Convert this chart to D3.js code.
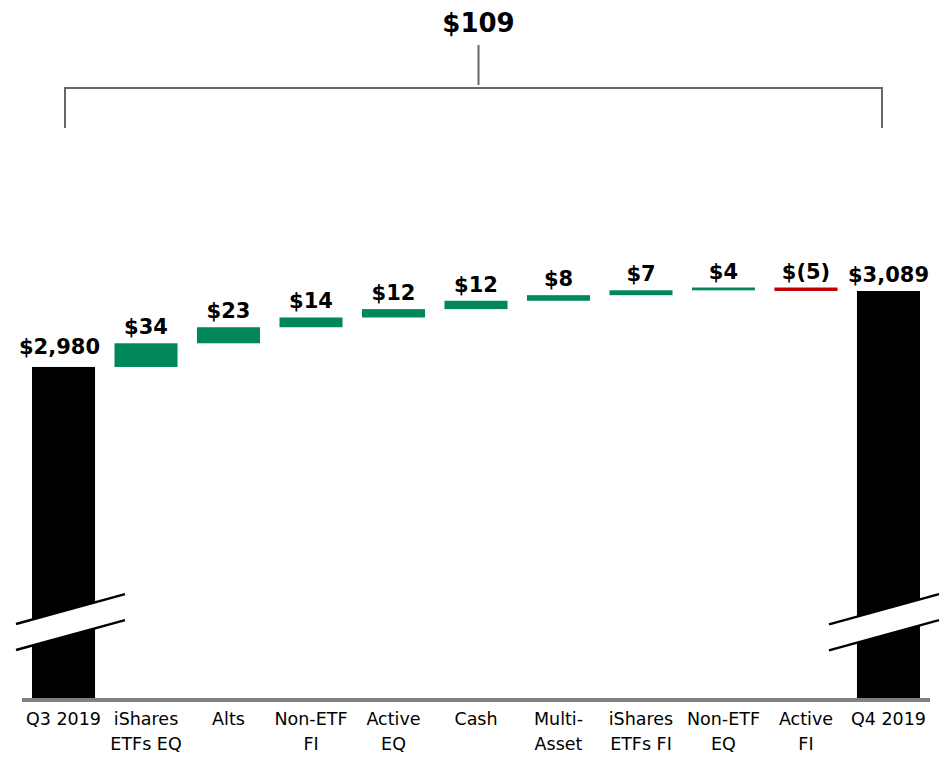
<!DOCTYPE html>
<html>
<head>
<meta charset="utf-8">
<script src="https://cdn.jsdelivr.net/npm/d3@7"></script>
<style>
  body { margin: 0; background: #fff; }
  svg { display: block; }
  text { font-family: "DejaVu Sans", sans-serif; }
</style>
</head>
<body>
<svg id="svg" width="947" height="759"></svg>
<script>
// data
var categories = ["Q3 2019", "iShares\nETFs EQ", "Alts", "Non-ETF\nFI", "Active\nEQ", "Cash",
                  "Multi-\nAsset", "iShares\nETFs FI", "Non-ETF\nEQ", "Active\nFI", "Q4 2019"];
var startValue = 2980;
var endValue = 3089;
var flows = [34, 23, 14, 12, 12, 8, 7, 4, -5];
var valueLabels = ["$2,980", "$34", "$23", "$14", "$12", "$12", "$8", "$7", "$4", "$(5)", "$3,089"];
var totalChange = "$109";

var green = "#00875a", red = "#c00000";

var svg = d3.select("#svg");

// build waterfall steps
var steps = [];
steps.push({ cat: categories[0], lo: null, hi: startValue, kind: "total" });
var run = startValue;
flows.forEach(function(f, i) {
    var a = run, b = run + f;
    steps.push({ cat: categories[i + 1], lo: Math.min(a, b), hi: Math.max(a, b), kind: f >= 0 ? "up" : "down" });
    run = b;
});
steps.push({ cat: categories[categories.length - 1], lo: null, hi: endValue, kind: "total" });

var baseY = 698;
var x = d3.scaleBand().domain(categories).range([32, 920]).paddingInner(0.236).paddingOuter(0);
var y = d3.scaleLinear().domain([2505, 3089]).range([baseY, 291]);
var bw = x.bandwidth();

// bars
svg.selectAll("rect.bar").data(steps).enter().append("rect")
    .attr("class", "bar")
    .attr("x", function(d) { return x(d.cat); })
    .attr("width", bw)
    .attr("y", function(d) { return y(d.hi); })
    .attr("height", function(d) { return d.kind == "total" ? baseY - y(d.hi) : Math.max(y(d.lo) - y(d.hi), 1); })
    .attr("fill", function(d) { return d.kind == "total" ? "#000" : (d.kind == "up" ? green : red); });

// axis break marks on the two total bars
var breaks = [
    { cat: categories[0], off: 74, left: 16, right: 30 },
    { cat: categories[categories.length - 1], off: 77, left: 28, right: 19 }
];
breaks.forEach(function(b) {
    var cx = x(b.cat) + bw / 2;
    var x1 = cx - bw / 2 - b.left, x2 = cx + bw / 2 + b.right;
    var slope = -0.275, gap = 26;
    var cy = baseY - b.off;
    var yA = function(xx) { return cy - gap / 2 + (xx - cx) * slope; };
    var yB = function(xx) { return cy + gap / 2 + (xx - cx) * slope; };
    svg.append("polygon")
        .attr("points", [[x1, yA(x1)], [x2, yA(x2)], [x2, yB(x2)], [x1, yB(x1)]].map(function(p) { return p.join(","); }).join(" "))
        .attr("fill", "#fff");
    [yA, yB].forEach(function(fy) {
        svg.append("line")
            .attr("x1", x1).attr("y1", fy(x1))
            .attr("x2", x2).attr("y2", fy(x2))
            .attr("stroke", "#000").attr("stroke-width", 2.5);
    });
});

// baseline
svg.append("line")
    .attr("x1", 22).attr("x2", 930)
    .attr("y1", baseY + 2).attr("y2", baseY + 2)
    .attr("stroke", "#808080").attr("stroke-width", 4);

// value labels
svg.selectAll("text.val").data(steps).enter().append("text")
    .attr("class", "val")
    .attr("x", function(d, i) { return x(d.cat) + bw / 2 + (i == 0 ? -4 : 0); })
    .attr("y", function(d, i) { return y(d.hi) - (i == 0 ? 13 : 9); })
    .attr("text-anchor", "middle")
    .attr("font-size", 21)
    .attr("font-weight", "bold")
    .attr("fill", "#000")
    .text(function(d, i) { return valueLabels[i]; });

// category labels
var cats = svg.selectAll("text.cat").data(categories).enter().append("text")
    .attr("class", "cat")
    .attr("text-anchor", "middle")
    .attr("font-size", 17.5)
    .attr("fill", "#000");
cats.each(function(c) {
    var t = d3.select(this);
    c.split("\n").forEach(function(line, j) {
        t.append("tspan")
            .attr("x", x(c) + bw / 2)
            .attr("y", 725 + j * 25)
            .text(line);
    });
});

// bracket with total change
var bl = x(categories[0]) + bw / 2 + 1.5;
var br = x(categories[categories.length - 1]) + bw / 2 - 6.5;
var bm = x(categories[5]) + bw / 2 + 2.5;
var bracket = svg.append("g").attr("stroke", "#666").attr("stroke-width", 2).attr("fill", "none");
bracket.append("path").attr("d", "M" + bl + ",128 V88 H" + br + " V128");
bracket.append("line").attr("x1", bm).attr("x2", bm).attr("y1", 45).attr("y2", 85);
svg.append("text")
    .attr("x", bm).attr("y", 32)
    .attr("text-anchor", "middle")
    .attr("font-size", 26)
    .attr("font-weight", "bold")
    .text(totalChange);
</script>
</body>
</html>
